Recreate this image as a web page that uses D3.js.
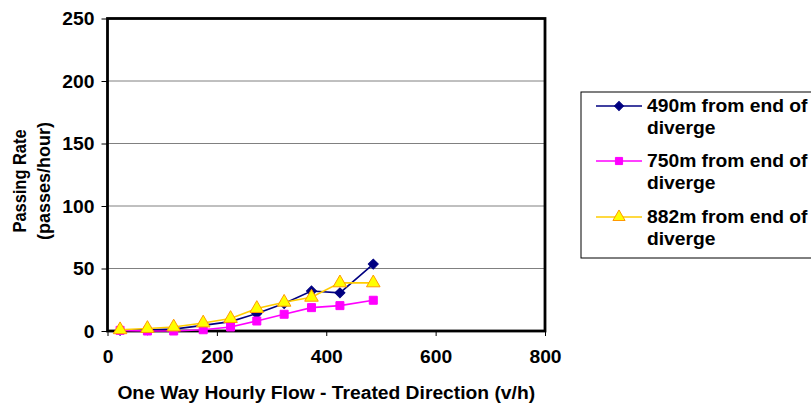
<!DOCTYPE html>
<html><head><meta charset="utf-8">
<script src="https://cdn.jsdelivr.net/npm/d3@7"></script>
<style>body{margin:0;background:#fff;}svg{display:block;font-family:Arial,"Liberation Sans",sans-serif;}</style>
</head><body><svg id="c" width="811" height="405"></svg>
<script>
const flow = [23, 73, 121, 175, 225, 273, 323, 373, 425, 486];
const s490 = [0.5, 1, 1.5, 4.5, 7.5, 14, 22, 32, 30.5, 53.5];
const s750 = [0.5, 0, 0, 1, 3.2, 8, 13.4, 18.7, 20.3, 24.6];
const s882 = [1, 2, 3.2, 6.4, 10, 18, 23, 27, 38.5, 38.5];
const seriesNames = [["490m from end of","diverge"],["750m from end of","diverge"],["882m from end of","diverge"]];
const xTicks = [0,200,400,600,800];
const yTicks = [0,50,100,150,200,250];

const svg = d3.select("#c");
const x = d3.scaleLinear().domain([0,800]).range([107.5,545]);
const y = d3.scaleLinear().domain([0,250]).range([331,18.5]);
const STRETCH = 1.07;
function stretch(sel, f){
  sel.each(function(){
    const w = this.getComputedTextLength();
    d3.select(this).attr("textLength", w*(f||STRETCH)).attr("lengthAdjust","spacingAndGlyphs");
  });
}

// gridlines
svg.append("g").selectAll("line").data(yTicks.filter(d=>d>0&&d<250)).join("line")
  .attr("x1",x(0)).attr("x2",x(800)).attr("y1",d=>y(d)).attr("y2",d=>y(d))
  .attr("stroke","#808080").attr("stroke-width",1);

// axes
const ya = svg.append("g").attr("transform",`translate(${x(0)},0)`)
  .call(d3.axisLeft(y).tickValues(yTicks).tickSize(6).tickPadding(7));
const xa = svg.append("g").attr("transform",`translate(0,${y(0)})`)
  .call(d3.axisBottom(x).tickValues(xTicks).tickSize(5).tickPadding(10));
[ya,xa].forEach(a=>{
  a.select(".domain").remove();
  a.selectAll("line").attr("stroke","#000").attr("stroke-width",1);
  a.selectAll("text").attr("font-size",18).attr("font-weight","bold").attr("fill","#000").attr("font-family","Arial, Liberation Sans, sans-serif");
});
ya.selectAll("text").attr("dy","0.35em");
xa.selectAll("text").attr("y",32).attr("dy",0);
stretch(ya.selectAll("text"));
stretch(xa.selectAll("text"));

// frame
svg.append("rect").attr("x",x(0)).attr("y",y(250)).attr("width",x(800)-x(0)).attr("height",y(0)-y(250))
  .attr("fill","none").attr("stroke","#000").attr("stroke-width",2.8);

const series = [
  {vals:s490, line:"#000080", fill:"#000080", stroke:"#000080", shape:d3.symbolSquare, size:50, rot:45},
  {vals:s750, line:"#FF00FF", fill:"#FF00FF", stroke:"#FF00FF", shape:d3.symbolSquare, size:64, rot:0},
  {vals:s882, line:"#FFCC00", fill:"#FFFF00", stroke:"#FF9900", shape:d3.symbolTriangle, size:80, rot:0}
];
const lineGen = d3.line().x((d,i)=>x(flow[i])).y(d=>y(d));
series.forEach(s=>{
  svg.append("path").datum(s.vals).attr("d",lineGen).attr("fill","none").attr("stroke",s.line).attr("stroke-width",1.6);
  svg.append("g").selectAll("path").data(s.vals).join("path")
    .attr("transform",(d,i)=>`translate(${x(flow[i])},${y(d)}) rotate(${s.rot})`)
    .attr("d",d3.symbol().type(s.shape).size(s.size))
    .attr("fill",s.fill).attr("stroke",s.stroke).attr("stroke-width",1);
});

// axis titles
const xt = svg.append("text").attr("x",(x(0)+x(800))/2).attr("y",398.5).attr("text-anchor","middle")
  .attr("font-size",18).attr("font-weight","bold").text("One Way Hourly Flow - Treated Direction (v/h)");
stretch(xt);
const yt1 = svg.append("text").attr("transform","translate(26,181) rotate(-90)").attr("text-anchor","middle")
  .attr("font-size",18).attr("font-weight","bold").text("Passing Rate");
const yt2 = svg.append("text").attr("transform","translate(50,181) rotate(-90)").attr("text-anchor","middle")
  .attr("font-size",18).attr("font-weight","bold").text("(passes/hour)");
yt1.attr("textLength",103).attr("lengthAdjust","spacingAndGlyphs");
yt2.attr("textLength",118).attr("lengthAdjust","spacingAndGlyphs");

// legend
svg.append("rect").attr("x",581).attr("y",92).attr("width",240).attr("height",166)
  .attr("fill","#fff").attr("stroke","#000").attr("stroke-width",1);
const ly = [106,161,217];
series.forEach((s,i)=>{
  const g = svg.append("g");
  g.append("line").attr("x1",596).attr("x2",642).attr("y1",ly[i]).attr("y2",ly[i]).attr("stroke",s.line).attr("stroke-width",1.6);
  g.append("path").attr("transform",`translate(619,${ly[i]}) rotate(${s.rot})`).attr("d",d3.symbol().type(s.shape).size(s.size*0.8))
    .attr("fill",s.fill).attr("stroke",s.stroke).attr("stroke-width",1);
  const t1 = g.append("text").attr("font-size",18).attr("font-weight","bold").attr("x",647).attr("y",ly[i]+6).text(seriesNames[i][0]);
  const t2 = g.append("text").attr("font-size",18).attr("font-weight","bold").attr("x",647).attr("y",ly[i]+28).text(seriesNames[i][1]);
  stretch(t1); stretch(t2);
});
</script></body></html>
